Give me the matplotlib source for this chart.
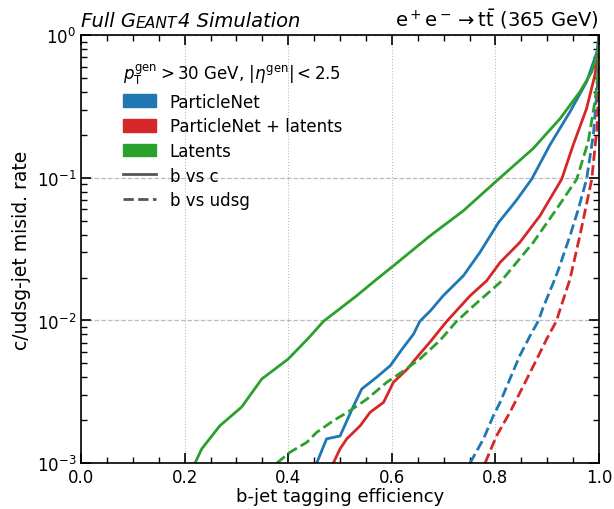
#!/usr/bin/env python3
"""ROC curves: b-jet tagging efficiency vs c/udsg misidentification rate."""
import matplotlib
matplotlib.use("Agg")
import matplotlib.pyplot as plt
import numpy as np
from matplotlib.lines import Line2D
from matplotlib.patches import Patch
from matplotlib.ticker import MultipleLocator, LogLocator, NullFormatter

# efficiency values and log10(misid rate)
pn_c_eff = [0.455, 0.474, 0.500, 0.526, 0.542, 0.570, 0.597, 0.620, 0.642, 0.654, 0.675, 0.699,
            0.738, 0.770, 0.806, 0.840, 0.870, 0.905, 0.944, 0.976, 0.996, 1.0]
pn_c_log = [-3.0, -2.83, -2.81, -2.60, -2.48, -2.40, -2.317, -2.20, -2.095, -2.006, -1.93, -1.827,
            -1.687, -1.523, -1.313, -1.16, -1.009, -0.771, -0.537, -0.327, -0.117, 0.0]

pnl_c_eff = [0.487, 0.500, 0.513, 0.539, 0.558, 0.584, 0.603, 0.630, 0.651, 0.674, 0.706, 0.751,
             0.783, 0.809, 0.847, 0.886, 0.928, 0.950, 0.976, 0.992, 0.999, 1.0]
pnl_c_log = [-3.0, -2.90, -2.83, -2.738, -2.644, -2.574, -2.434, -2.34, -2.247, -2.15, -2.006, -1.827,
             -1.722, -1.593, -1.453, -1.266, -1.009, -0.771, -0.514, -0.28, -0.117, 0.0]

lat_c_eff = [0.220, 0.233, 0.268, 0.310, 0.349, 0.400, 0.440, 0.468, 0.532, 0.571, 0.603, 0.674,
             0.738, 0.806, 0.873, 0.925, 0.963, 0.986, 0.999, 1.0]
lat_c_log = [-3.0, -2.90, -2.738, -2.607, -2.41, -2.27, -2.12, -2.006, -1.827, -1.71, -1.617, -1.406,
             -1.231, -1.009, -0.794, -0.584, -0.397, -0.257, -0.093, 0.0]

pn_l_eff = [0.751, 0.777, 0.796, 0.809, 0.828, 0.847, 0.867, 0.883, 0.891, 0.912, 0.922, 0.944,
            0.960, 0.976, 0.989, 0.997, 1.0]
pn_l_log = [-3.0, -2.83, -2.668, -2.574, -2.41, -2.247, -2.107, -2.002, -1.92, -1.733, -1.64, -1.406,
            -1.22, -1.009, -0.70, -0.35, 0.0]

pnl_l_eff = [0.780, 0.802, 0.828, 0.854, 0.880, 0.899, 0.918, 0.923, 0.944, 0.963, 0.975, 0.986,
             0.996, 0.9995, 1.0]
pnl_l_log = [-3.0, -2.81, -2.644, -2.458, -2.27, -2.13, -2.002, -1.943, -1.71, -1.406, -1.2, -1.009,
             -0.654, -0.35, 0.0]

lat_l_eff = [0.378, 0.403, 0.436, 0.455, 0.487, 0.519, 0.552, 0.590, 0.620, 0.654, 0.693, 0.725,
             0.760, 0.809, 0.873, 0.918, 0.957, 0.979, 0.992, 0.999, 1.0]
lat_l_log = [-3.0, -2.925, -2.854, -2.784, -2.703, -2.633, -2.551, -2.434, -2.36, -2.27, -2.14, -2.006,
             -1.89, -1.733, -1.453, -1.219, -1.009, -0.748, -0.467, -0.234, 0.0]

models = ["ParticleNet", "ParticleNet + latents", "Latents"]
colors = ["#1f77b4", "#d62728", "#2ca02c"]


def main():
    plt.rcParams["font.family"] = "DejaVu Sans"
    fig = plt.figure(figsize=(6.14, 5.10), dpi=100)
    ax = fig.add_axes([0.132, 0.090, 0.8436, 0.839])

    curves = [
        (pn_c_eff, pn_c_log, colors[0], "-"),
        (pnl_c_eff, pnl_c_log, colors[1], "-"),
        (lat_c_eff, lat_c_log, colors[2], "-"),
        (pn_l_eff, pn_l_log, colors[0], "--"),
        (pnl_l_eff, pnl_l_log, colors[1], "--"),
        (lat_l_eff, lat_l_log, colors[2], "--"),
    ]
    for eff, lg, c, ls in curves:
        ax.plot(eff, 10.0 ** np.array(lg), color=c, ls=ls, lw=2)

    ax.set_yscale("log")
    ax.set_xlim(0, 1)
    ax.set_ylim(1e-3, 1)
    ax.xaxis.set_major_locator(MultipleLocator(0.2))
    ax.xaxis.set_minor_locator(MultipleLocator(0.05))
    ax.yaxis.set_minor_locator(LogLocator(base=10, subs=np.arange(2, 10)))
    ax.yaxis.set_minor_formatter(NullFormatter())
    ax.tick_params(which="both", direction="in", top=True, right=True, labelsize=12)
    ax.tick_params(which="major", length=7, width=1.2)
    ax.tick_params(which="minor", length=4, width=1)
    for s in ax.spines.values():
        s.set_linewidth(1.2)

    ax.xaxis.grid(True, which="major", ls=":", color="#bbbbbb", lw=0.8)
    ax.yaxis.grid(True, which="major", ls="--", color="#bbbbbb", lw=0.9)

    ax.set_xlabel("b-jet tagging efficiency", fontsize=13, labelpad=1)
    ax.set_ylabel("c/udsg-jet misid. rate", fontsize=13.5)

    # title pieces: Full GEANT4 Simulation with small caps
    t1 = ax.text(0.0, 1.012, "Full G", transform=ax.transAxes, fontsize=14,
                 style="italic", ha="left", va="bottom")
    t2 = ax.annotate("EANT", xy=(1, 0), xycoords=t1, fontsize=11.2,
                     style="italic", ha="left", va="bottom")
    ax.annotate("4 Simulation", xy=(1, 0), xycoords=t2, fontsize=14,
                style="italic", ha="left", va="bottom")
    ax.text(1.0, 1.012, r"$\mathregular{e^+e^-\rightarrow t\bar{t}}$ (365 GeV)",
            transform=ax.transAxes, fontsize=14, ha="right", va="bottom")

    handles = [Patch(color=c, label=m) for m, c in zip(models, colors)]
    handles += [Line2D([], [], color="#555555", lw=2, ls="-", label="b vs c"),
                Line2D([], [], color="#555555", lw=2, ls="--", label="b vs udsg")]
    leg = ax.legend(handles=handles, loc="upper left", frameon=False, fontsize=12,
                    title=r"$p_\mathrm{T}^\mathrm{gen} > 30$ GeV, $|\eta^\mathrm{gen}| < 2.5$",
                    title_fontsize=12, bbox_to_anchor=(0.052, 0.975),
                    handlelength=2.0, handleheight=0.8, labelspacing=0.4)
    leg._legend_box.align = "left"

    fig.savefig("out.png", dpi=100)


if __name__ == "__main__":
    main()
